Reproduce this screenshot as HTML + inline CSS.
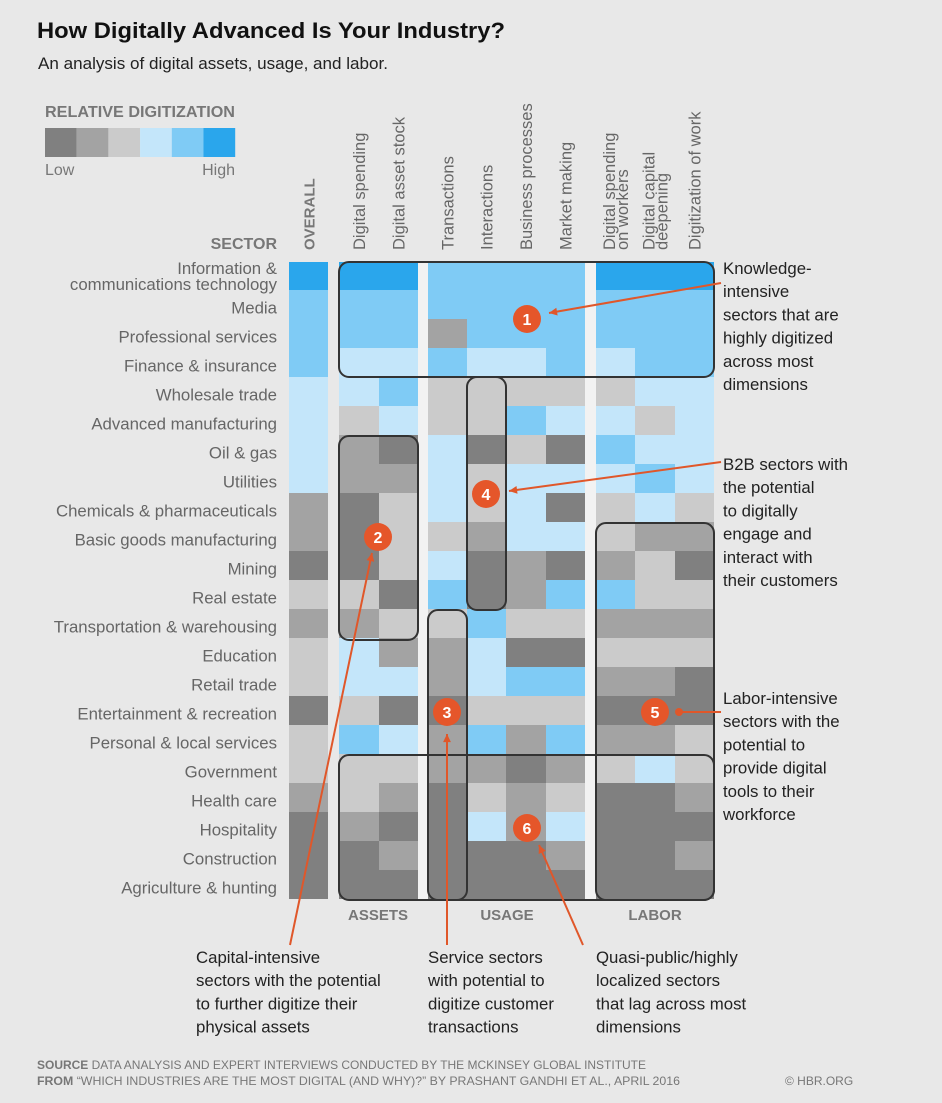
<!DOCTYPE html>
<html><head><meta charset="utf-8"><style>
body{margin:0;background:#e8e8e8;}
svg{display:block;font-family:"Liberation Sans",sans-serif;}
</style></head><body>
<svg id="chart" width="942" height="1103" viewBox="0 0 942 1103" xmlns="http://www.w3.org/2000/svg">
<rect width="942" height="1103" fill="#e8e8e8"/>
<text x="37" y="38" font-size="22" font-weight="bold" fill="#111" textLength="468" lengthAdjust="spacingAndGlyphs">How Digitally Advanced Is Your Industry?</text>
<text x="38" y="69" font-size="16.5" fill="#222" textLength="350" lengthAdjust="spacingAndGlyphs">An analysis of digital assets, usage, and labor.</text>
<text x="45" y="117" font-size="15.5" font-weight="bold" fill="#777" textLength="190" lengthAdjust="spacingAndGlyphs">RELATIVE DIGITIZATION</text>
<g id="legend"></g>
<text x="45" y="175" font-size="16" fill="#777">Low</text>
<text x="235" y="175" font-size="16" fill="#777" text-anchor="end">High</text>
<text x="277" y="249" font-size="16" font-weight="bold" fill="#777" text-anchor="end">SECTOR</text>
<g id="headers"></g>
<g id="rowlabels"></g>
<g id="cells"></g>
<g id="boxes" fill="none" stroke="#333" stroke-width="2"></g>
<g id="arrows" stroke="#e0572a" stroke-width="2" fill="#e0572a"></g>
<g id="markers"></g>
<g id="notes" font-size="16.8" fill="#222"></g>
<text x="378" y="920" font-size="15" font-weight="bold" fill="#777" text-anchor="middle">ASSETS</text>
<text x="507" y="920" font-size="15" font-weight="bold" fill="#777" text-anchor="middle">USAGE</text>
<text x="655" y="920" font-size="15" font-weight="bold" fill="#777" text-anchor="middle">LABOR</text>
<text x="37" y="1069" font-size="12" fill="#777" textLength="609" lengthAdjust="spacingAndGlyphs"><tspan font-weight="bold">SOURCE</tspan>  DATA ANALYSIS AND EXPERT INTERVIEWS CONDUCTED BY THE MCKINSEY GLOBAL INSTITUTE</text>
<text x="37" y="1085" font-size="12" fill="#777" textLength="643" lengthAdjust="spacingAndGlyphs"><tspan font-weight="bold">FROM</tspan>  “WHICH INDUSTRIES ARE THE MOST DIGITAL (AND WHY)?” BY PRASHANT GANDHI ET AL., APRIL 2016</text>
<text x="785" y="1085" font-size="12" fill="#777">© HBR.ORG</text>
</svg>
<script>
const sectors=["Information &|communications technology","Media","Professional services","Finance & insurance","Wholesale trade","Advanced manufacturing","Oil & gas","Utilities","Chemicals & pharmaceuticals","Basic goods manufacturing","Mining","Real estate","Transportation & warehousing","Education","Retail trade","Entertainment & recreation","Personal & local services","Government","Health care","Hospitality","Construction","Agriculture & hunting"];
const metrics=["OVERALL","Digital spending","Digital asset stock","Transactions","Interactions","Business processes","Market making","Digital spending|on workers","Digital capital|deepening","Digitization of work"];
const levels=[
[6,6,6,5,5,5,5,6,6,6],
[5,5,5,5,5,5,5,5,5,5],
[5,5,5,2,5,5,5,5,5,5],
[5,4,4,5,4,4,5,4,5,5],
[4,4,5,3,3,3,3,3,4,4],
[4,3,4,3,3,5,4,4,3,4],
[4,2,1,4,1,3,1,5,4,4],
[4,2,2,4,3,4,4,4,5,4],
[2,1,3,4,3,4,1,3,4,3],
[2,1,3,3,2,4,4,3,2,2],
[1,1,3,4,1,2,1,2,3,1],
[3,3,1,5,1,2,5,5,3,3],
[2,2,3,3,5,3,3,2,2,2],
[3,4,2,2,4,1,1,3,3,3],
[3,4,4,2,4,5,5,2,2,1],
[1,3,1,1,3,3,3,1,1,1],
[3,5,4,2,5,2,5,2,2,3],
[3,3,3,2,2,1,2,3,4,3],
[2,3,2,1,3,2,3,1,1,2],
[1,2,1,1,4,2,4,1,1,1],
[1,1,2,1,1,1,2,1,1,2],
[1,1,1,1,1,1,1,1,1,1]];
const palette=["#808080","#a3a3a3","#cbcbcb","#c4e6fa","#7fcbf5","#2aa6ec"];
const NS="http://www.w3.org/2000/svg";
function mk(tag,attrs,parent){const e=document.createElementNS(NS,tag);for(const k in attrs)e.setAttribute(k,attrs[k]);parent.appendChild(e);return e;}
const colX=[289,339,379,428,467,506,546,596,635,675];
const colW=[39,40,39,39,39,40,39,39,40,39];
function rowY(i){return i===0?262:290+(i-1)*29;}
function rowH(i){return i===0?28:29;}
// group gap strips
const svg=document.getElementById('chart');
[[418,10],[585,11]].forEach(g=>{mk('rect',{x:g[0],y:262,width:g[1],height:637,fill:'#f2f2f2'},document.getElementById('cells'));});
// legend
const lg=document.getElementById('legend');
palette.forEach((c,i)=>{const r=mk('rect',{x:45+i*31.7,y:128,width:31.7,height:29,fill:c},lg);

});
// headers
const hd=document.getElementById('headers');
metrics.forEach((m,j)=>{const cx=colX[j]+colW[j]/2;const lines=m.split('|');
lines.forEach((ln,k)=>{const x=cx+6+(k-(lines.length-1)/2)*13;
const t=mk('text',{x:x,y:250,transform:`rotate(-90 ${x} 250)`,'font-size':j===0?15:16.5,fill:j===0?'#777':'#666','font-weight':j===0?'bold':'normal'},hd);
t.textContent=ln;

});});
// row labels
const rl=document.getElementById('rowlabels');
sectors.forEach((s,i)=>{const lines=s.split('|');const cy=rowY(i)+rowH(i)/2+(i===0?0:3);
lines.forEach((ln,k)=>{const t=mk('text',{x:277,y:cy+6+(k-(lines.length-1)/2)*16,'font-size':16.8,fill:'#666','text-anchor':'end'},rl);
t.textContent=ln;

});});
// cells
const cg=document.getElementById('cells');
levels.forEach((row,i)=>row.forEach((v,j)=>{const r=mk('rect',{x:colX[j],y:rowY(i),width:colW[j],height:rowH(i),fill:palette[v-1]},cg);

}));
// boxes
const bx=document.getElementById('boxes');
[[339,262,375,115],[467,377,39,233],[339,436,79,204],[428,610,39,290],[596,523,118,377],[339,755,375,145]].forEach((b,i)=>{
const r=mk('rect',{x:b[0],y:b[1],width:b[2],height:b[3],rx:10},bx);

});
// arrows
const ar=document.getElementById('arrows');
function arrow(x1,y1,x2,y2,name){const l=mk('line',{x1,y1,x2,y2},ar);


const a=Math.atan2(y2-y1,x2-x1),s=9;
mk('polygon',{points:`${x2},${y2} ${x2-s*Math.cos(a-0.45)},${y2-s*Math.sin(a-0.45)} ${x2-s*Math.cos(a+0.45)},${y2-s*Math.sin(a+0.45)}`,stroke:'none'},ar);}
arrow(721,283,549,313,'arrow-1');
arrow(721,462,509,491,'arrow-4');
mk('line',{x1:721,y1:712,x2:682,y2:712},ar);
mk('circle',{cx:679,cy:712,r:3},ar);
arrow(290,945,372,553,'arrow-2');
arrow(447,945,447,734,'arrow-3');
arrow(583,945,539,845,'arrow-6');
// markers
const mg=document.getElementById('markers');
[[527,319,'1'],[378,537,'2'],[447,712,'3'],[486,494,'4'],[655,712,'5'],[527,828,'6']].forEach(m=>{
const c=mk('circle',{cx:m[0],cy:m[1],r:14,fill:'#e5562a'},mg);


const t=mk('text',{x:m[0],y:m[1]+6,'font-size':16,'font-weight':'bold',fill:'#fff','text-anchor':'middle'},mg);t.textContent=m[2];});
// notes
const ng=document.getElementById('notes');
function note(x,y,lines,name){lines.forEach((ln,k)=>{const t=mk('text',{x:x,y:y+k*23.2},ng);t.textContent=ln;

});}
note(723,274,["Knowledge-","intensive","sectors that are","highly digitized","across most","dimensions"],'note-knowledge-intensive');
note(723,470,["B2B sectors with","the potential","to digitally","engage and","interact with","their customers"],'note-b2b');
note(723,704,["Labor-intensive","sectors with the","potential to","provide digital","tools to their","workforce"],'note-labor-intensive');
note(196,963,["Capital-intensive","sectors with the potential","to further digitize their","physical assets"],'note-capital-intensive');
note(428,963,["Service sectors","with potential to","digitize customer","transactions"],'note-service-sectors');
note(596,963,["Quasi-public/highly","localized sectors","that lag across most","dimensions"],'note-quasi-public');
</script>
</body></html>
